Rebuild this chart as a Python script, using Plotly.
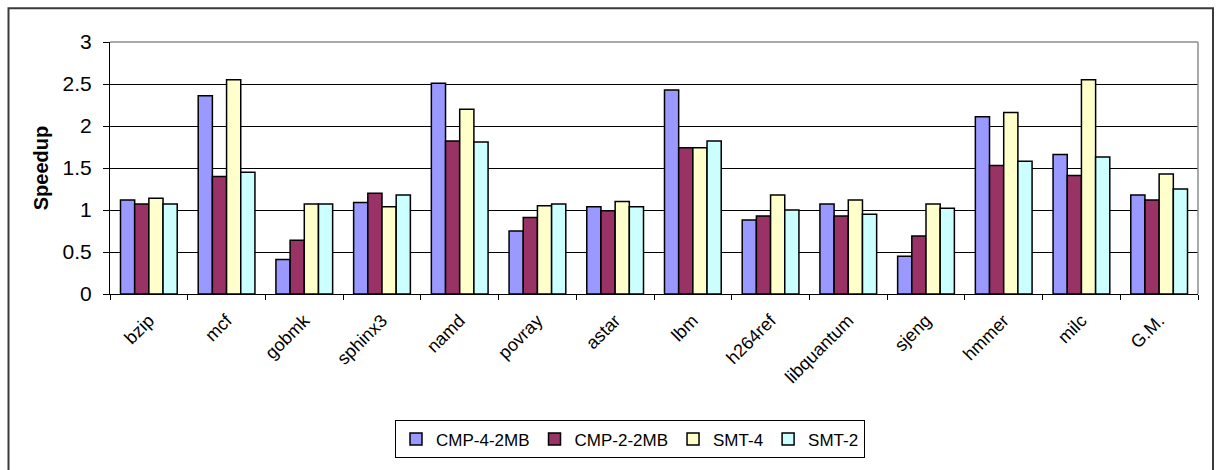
import plotly.graph_objects as go

# Benchmarks and speedup values per configuration
benchmarks = ["bzip", "mcf", "gobmk", "sphinx3", "namd", "povray", "astar",
              "lbm", "h264ref", "libquantum", "sjeng", "hmmer", "milc", "G.M."]

cmp_4_2mb = [1.12, 2.36, 0.41, 1.09, 2.51, 0.75, 1.04, 2.43, 0.88, 1.07, 0.45, 2.11, 1.66, 1.18]
cmp_2_2mb = [1.07, 1.40, 0.64, 1.20, 1.82, 0.91, 0.99, 1.74, 0.93, 0.93, 0.69, 1.53, 1.41, 1.12]
smt_4     = [1.14, 2.55, 1.07, 1.04, 2.20, 1.05, 1.10, 1.74, 1.18, 1.12, 1.07, 2.16, 2.55, 1.43]
smt_2     = [1.07, 1.45, 1.07, 1.18, 1.81, 1.07, 1.04, 1.82, 1.00, 0.95, 1.02, 1.58, 1.63, 1.25]

series_names = ["CMP-4-2MB", "CMP-2-2MB", "SMT-4", "SMT-2"]
series_values = [cmp_4_2mb, cmp_2_2mb, smt_4, smt_2]
series_colors = ["#9999FF", "#993366", "#FFFFCC", "#CCFFFF"]

y_ticks = [0, 0.5, 1, 1.5, 2, 2.5, 3]
y_tick_text = ["0", "0.5", "1", "1.5", "2", "2.5", "3"]

FONT = "Arial, Liberation Sans, sans-serif"

fig = go.Figure()
for name, vals, color in zip(series_names, series_values, series_colors):
    fig.add_trace(go.Bar(
        x=benchmarks, y=vals, name=name,
        marker=dict(color=color, line=dict(color="black", width=1.5)),
    ))

W, H = 1218, 470
L, R, T, B = 110, 20, 42, 171
pw, ph = W - L - R, H - T - B

def px_x(p):
    return (p - L) / pw

def px_y(p):
    return (H - B - p) / ph

fig.update_layout(
    width=W, height=H,
    margin=dict(l=L, r=R, t=T, b=B),
    paper_bgcolor="white", plot_bgcolor="white",
    barmode="group", bargap=0.27, bargroupgap=0,
    font=dict(family=FONT, size=17, color="black"),
    showlegend=True,
    legend=dict(
        orientation="h",
        x=px_x(630), xanchor="center",
        y=px_y(428), yanchor="top",
        bordercolor="black", borderwidth=1,
        font=dict(family=FONT, size=17, color="black"),
        itemwidth=30, tracegroupgap=0,
    ),
    xaxis=dict(
        type="category",
        showline=True, linecolor="black", linewidth=1,
        ticks="outside", ticklen=5, tickcolor="black",
        tickson="boundaries",
        tickangle=-45,
        ticklabelstandoff=8,
        tickfont=dict(family=FONT, size=18, color="black"),
        showgrid=False, zeroline=False,
        range=[-0.5, len(benchmarks) - 0.5],
    ),
    yaxis=dict(
        range=[0, 3],
        tickvals=y_ticks, ticktext=y_tick_text,
        showline=True, linecolor="black", linewidth=1,
        ticks="outside", ticklen=6, tickcolor="black",
        ticklabelstandoff=7,
        tickfont=dict(family=FONT, size=21, color="black"),
        showgrid=True, gridcolor="black", gridwidth=1,
        zeroline=False,
        title=dict(text="<b>Speedup</b>", font=dict(family=FONT, size=20, color="black"),
                   standoff=8),
    ),
    shapes=[
        # grey frame of the plotting area (top and right edges)
        dict(type="line", xref="paper", yref="paper", x0=0, x1=1, y0=1, y1=1,
             line=dict(color="#8c8c8c", width=1.5), layer="above"),
        dict(type="line", xref="paper", yref="paper", x0=1, x1=1, y0=0, y1=1,
             line=dict(color="#8c8c8c", width=1.5), layer="above"),
        # outer chart border
        dict(type="rect", xref="paper", yref="paper",
             x0=px_x(8.5), x1=px_x(1213), y0=px_y(7.5), y1=px_y(480),
             line=dict(color="#3a3a3a", width=2), fillcolor="rgba(0,0,0,0)",
             layer="above"),
    ],
)

fig.write_html("out.html")
